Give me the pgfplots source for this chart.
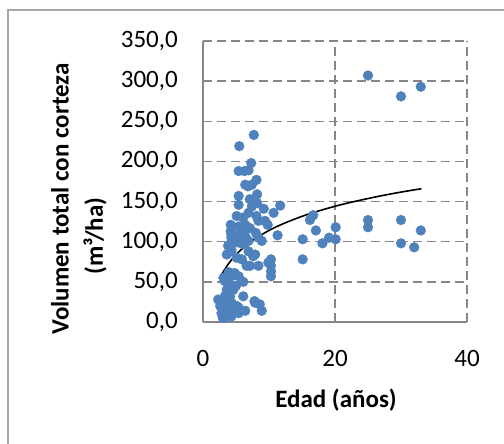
\documentclass[border=0pt]{standalone}
\usepackage{pgfplots}
\pgfplotsset{compat=1.18}
\usepackage{fontspec}
\setmainfont{Carlito}
\definecolor{ptblue}{HTML}{4F81BD}
\definecolor{gridgray}{HTML}{868686}
\definecolor{framegray}{HTML}{A6A6A6}
\begin{document}
\begin{tikzpicture}[x=1pt,y=1pt]
\useasboundingbox (0,0) rectangle (504,444);
\draw[framegray, line width=1.5pt] (8,-20) -- (8,434) -- (520,434);
\begin{axis}[
  at={(203pt,122pt)}, anchor=south west,
  scale only axis, width=264pt, height=281pt,
  xmin=0, xmax=40, ymin=0, ymax=350,
  xtick={0,20,40}, ytick={0,50,...,350},
  axis x line*=bottom, axis y line*=left,
  axis line style={-, gridgray, line width=1.6pt},
  major tick length=0pt,
  grid=major,
  major grid style={gridgray, line width=1.5pt, dash pattern=on 9pt off 5pt},
  tick label style={font=\fontsize{25}{30}\selectfont, inner sep=0pt},
  yticklabel style={anchor=east, xshift=-25pt,
    /pgf/number format/.cd, fixed, fixed zerofill, precision=1, use comma,
    assume math mode=true},
  xticklabel style={anchor=center, yshift=-36pt,
    /pgf/number format/assume math mode=true},
  clip=false,
]
\addplot[only marks, mark=*, mark size=4.9pt, mark options={fill=ptblue, draw=ptblue}]
coordinates {
(25.0,307)(30.0,281)(33.0,293)
(16.2,127)(16.7,133)(17.1,114)(15.1,103)(15.1,78)(18.1,98)(19.1,105)(20.1,118)(20.1,103)
(25,127)(25,118)(30,127)(30,98)(32,93)(33,114)
(7.7,233)(5.5,219)(7.3,198)(5.4,188)(6.3,188)(6.9,189)(8.1,177)(6.4,171)(7.4,171)(6.8,169)
(5.4,157)(5.4,146)(8.2,159)(8.2,148)(11.7,145)(10.7,136)(9.2,141)(7.1,153)(7.4,144)(6.9,136)
(5.1,132)(6.1,130)(8.1,132)(8.4,126)(9.4,126)(9.8,121)(4.2,121)(4.2,113)(4.3,105)(4.3,96)
(4.3,90)(5.4,119)(5.1,107)(5.9,115)(5.4,99)(6.4,121)(7.1,117)(6.4,107)(6.9,101)(8.9,101)
(11.3,108)(8.0,111)(8.4,105)(6.1,97)(6.9,88)(7.6,82)(7.9,84)(6.6,70)(7.1,70)(8.4,70)
(5.9,78)(5.1,80)(10.3,78)(10.3,70)(10.3,63)(10.3,57)(9.9,74)(4.8,61)(5.4,57)(3.8,49)
(3.6,40)(3.3,32)(6.1,50)(4.3,57)(3.1,55)(2.8,26)(2.6,20)(2.8,11)(3.3,5)(4.1,32)
(4.3,24)(4.1,16)(4.3,7)(5.1,20)(5.4,11)(6.1,32)(6.4,14)(7.8,26)(8.6,22)(8.9,14)
(3.8,40)(3.3,51)(2.3,28)(3.3,12)(3.0,5)(5.4,18)(7.9,24)(3.5,20)(4.6,40)(3.9,62)(5.0,45)
(4.3,109)(4.3,99)(4.3,88)(3.6,84)(3.8,95)
};
\addplot[black, line width=1.6pt, smooth] coordinates {
(2.7,57.0)(3,61.6)(4,74.1)(5,83.8)(6,91.7)(8,104.3)(10,114.0)(12,121.9)
(15,131.6)(18,139.5)(21,146.3)(24,152.0)(27,157.2)(30,161.8)(33.1,166.0)
};
\end{axis}
\node[rotate=90, font=\fontsize{25}{30}\selectfont\bfseries] at (60,245) {Volumen total con corteza};
\node[rotate=90, font=\fontsize{25}{30}\selectfont\bfseries] at (95,208) {(m³/ha)};
\node[font=\fontsize{25}{30}\selectfont\bfseries] at (336,44) {Edad (años)};
\end{tikzpicture}
\end{document}
